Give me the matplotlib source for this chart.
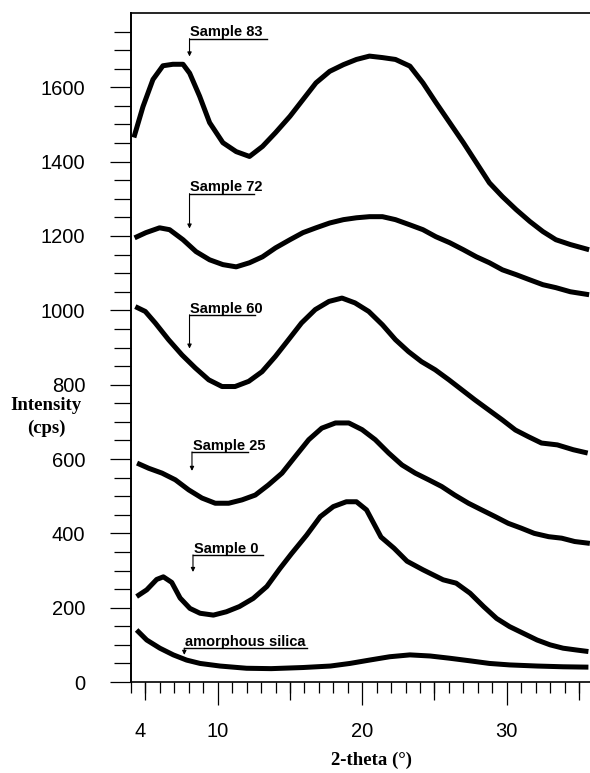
import numpy as np
import matplotlib.pyplot as plt
from matplotlib.ticker import FixedLocator, MultipleLocator
from matplotlib.transforms import ScaledTranslation

plt.rcParams['font.family'] = ['Liberation Sans', 'DejaVu Sans']

# 2-theta (deg) / intensity (cps)
s83_theta = [4.2, 4.83, 5.52, 6.21, 6.9, 7.6, 8.06, 8.75, 9.44, 10.36, 11.28, 12.2, 13.1, 14.0, 15.0,
             15.9, 16.8, 17.75, 18.7, 19.6, 20.5, 21.4, 22.3, 23.3, 24.2, 25.1, 26.05, 27.0, 27.9,
             28.8, 29.7, 30.65, 31.6, 32.5, 33.4, 34.4, 35.7]
s83_cps = [1465, 1548, 1621, 1658, 1662, 1662, 1638, 1576, 1505, 1451, 1427, 1414, 1441, 1478, 1522,
           1567, 1612, 1643, 1661, 1675, 1684, 1680, 1675, 1657, 1612, 1559, 1505, 1451, 1397,
           1343, 1306, 1271, 1239, 1212, 1190, 1177, 1163]

s72_theta = [4.25, 5.03, 5.98, 6.67, 7.6, 8.5, 9.44, 10.36, 11.28, 12.2, 13.1, 14.0, 15.0, 15.9, 16.8,
             17.75, 18.7, 19.6, 20.5, 21.4, 22.3, 23.3, 24.2, 25.1, 26.05, 27.0, 27.9, 28.8, 29.7,
             30.65, 31.6, 32.5, 33.4, 34.4, 35.7]
s72_cps = [1195, 1209, 1222, 1217, 1190, 1158, 1136, 1123, 1117, 1128, 1144, 1168, 1190, 1209, 1222,
           1235, 1244, 1249, 1252, 1252, 1244, 1230, 1217, 1198, 1182, 1163, 1144, 1128, 1109,
           1096, 1082, 1069, 1061, 1050, 1042]

s60_theta = [4.3, 4.99, 5.68, 6.6, 7.53, 8.45, 9.38, 10.3, 11.2, 12.15, 13.07, 13.99, 14.9, 15.8,
             16.75, 17.7, 18.6, 19.5, 20.45, 21.4, 22.3, 23.2, 24.1, 25.05, 26.0, 26.9, 27.8,
             28.75, 29.7, 30.6, 31.5, 32.4, 33.5, 34.6, 35.6]
s60_cps = [1010, 997, 966, 921, 880, 845, 813, 795, 795, 809, 835, 876, 921, 966,
           1002, 1024, 1033, 1020, 997, 961, 921, 889, 862, 840, 813, 786, 759,
           732, 705, 678, 660, 643, 638, 625, 616]

s25_theta = [4.42, 5.23, 6.15, 7.07, 7.99, 8.91, 9.83, 10.76, 11.68, 12.6, 13.5, 14.45, 15.37, 16.3,
             17.2, 18.15, 19.07, 19.99, 20.9, 21.83, 22.75, 23.67, 24.6, 25.5, 26.4, 27.35, 28.27,
             29.2, 30.1, 31.0, 31.9, 32.9, 33.8, 34.7, 35.75]
s25_cps = [589, 575, 562, 544, 517, 495, 481, 481, 490, 503, 530, 562, 607, 652,
           683, 697, 697, 679, 652, 616, 584, 562, 544, 526, 503, 481, 463,
           445, 427, 414, 400, 391, 387, 378, 373]

s0_theta = [4.39, 5.09, 5.78, 6.24, 6.82, 7.4, 8.08, 8.78, 9.7, 10.6, 11.5, 12.46, 13.4, 14.3, 15.1,
            16.15, 17.1, 18.0, 18.9, 19.6, 20.3, 21.3, 22.2, 23.1, 24.2, 25.6, 26.5, 27.46, 28.4,
            29.3, 30.2, 31.15, 32.1, 33.0, 33.9, 34.85, 35.65]
s0_cps = [230, 248, 276, 283, 268, 226, 198, 185, 180, 189, 203, 225, 257, 305, 345,
          395, 445, 472, 485, 485, 463, 390, 360, 325, 302, 275, 266, 239, 203,
          171, 149, 131, 113, 100, 91, 86, 82]

silica_theta = [4.39, 5.09, 6.0, 6.93, 7.85, 8.78, 10.16, 12.0, 13.7, 15.9, 17.8, 19.15, 20.5, 21.9,
                23.3, 24.7, 26.05, 27.46, 28.8, 30.2, 32.1, 33.9, 35.65]
silica_cps = [140, 113, 91, 73, 59, 50, 43, 37, 36, 39, 43, 50, 59, 68,
              73, 70, 64, 57, 50, 46, 43, 41, 40]

curves = [(s83_theta, s83_cps), (s72_theta, s72_cps), (s60_theta, s60_cps),
          (s25_theta, s25_cps), (s0_theta, s0_cps), (silica_theta, silica_cps)]

# labels with underline + arrow pointing down to each pattern
names = ['Sample 83', 'Sample 72', 'Sample 60', 'Sample 25', 'Sample 0', 'amorphous silica']
name_x = [8.1, 8.1, 8.1, 8.27, 8.34, 7.74]
name_base = [1737, 1320, 994, 625, 348, 97]
line_y = [1731, 1314, 988, 619, 342, 91]
line_end = [13.4, 12.5, 12.6, 12.1, 13.1, 16.15]
tip_y = [1683, 1220, 897, 568, 296, 73]

fig = plt.figure(figsize=(5.9, 7.73), dpi=100)
ax = fig.add_axes([0.222, 0.1177, 0.778, 0.8655])

for th, cps in curves:
    ax.plot(th, cps, color='black', lw=3.6, solid_joinstyle='round', solid_capstyle='butt')

for i, name in enumerate(names):
    ax.text(name_x[i], name_base[i], name, ha='left', va='baseline',
            fontsize=10.5, fontweight='bold')
    ax.plot([name_x[i] - 0.05, line_end[i]], [line_y[i], line_y[i]], color='black', lw=1.0)
    ax.annotate('', xy=(name_x[i] - 0.05, tip_y[i]), xytext=(name_x[i] - 0.05, line_y[i]),
                arrowprops=dict(arrowstyle='-|>', color='black', lw=0.8,
                                mutation_scale=6, shrinkA=0, shrinkB=0))

ax.set_xlim(4, 35.76)
ax.set_ylim(0, 1800)

ax.spines['right'].set_visible(False)
ax.spines['left'].set_linewidth(1.4)
ax.spines['bottom'].set_linewidth(1.2)
ax.spines['top'].set_linewidth(1.2)

# x ticks: 1 deg minor, 5 deg medium, 10 deg major
ax.set_xticks([4, 10, 20, 30])
ax.set_xticklabels(['4', '10', '20', '30'])
ax.xaxis.set_minor_locator(MultipleLocator(1))
ax.tick_params(axis='x', which='major', direction='out', length=16.5, width=0.9,
               pad=12, labelsize=14.5)
ax.tick_params(axis='x', which='minor', direction='out', length=8, width=0.9)

sec = ax.secondary_xaxis('bottom')
sec.set_xticks([5, 15, 25, 35])
sec.tick_params(axis='x', direction='out', length=13, width=0.9, labelbottom=False)
sec.spines['bottom'].set_visible(False)

# y ticks
ax.set_yticks(np.arange(0, 1601, 200))
ax.yaxis.set_minor_locator(FixedLocator(np.arange(50, 1800, 50)))
ax.tick_params(axis='y', which='major', direction='out', length=15, width=0.9,
               pad=18, labelsize=14.5)
ax.tick_params(axis='y', which='minor', direction='out', length=12, width=0.9)

# the "4" tick is short and its label sits a bit to the right
t4 = ax.xaxis.get_major_ticks()[0]
t4.tick1line.set_markersize(8)
t4.label1.set_transform(t4.label1.get_transform() + ScaledTranslation(0.09, 0, fig.dpi_scale_trans))

fig.text(46 / 590, 1 - 405 / 773, 'Intensity', ha='center', va='center',
         fontfamily='Liberation Serif', fontweight='bold', fontsize=13.5)
fig.text(46 / 590, 1 - 428 / 773, '(cps)', ha='center', va='center',
         fontfamily='Liberation Serif', fontweight='bold', fontsize=13.5)
fig.text(371.5 / 590, 1 - 760 / 773, '2-theta (°)', ha='center', va='center',
         fontfamily='Liberation Serif', fontweight='bold', fontsize=13.5)

fig.savefig('out.png', dpi=100)
